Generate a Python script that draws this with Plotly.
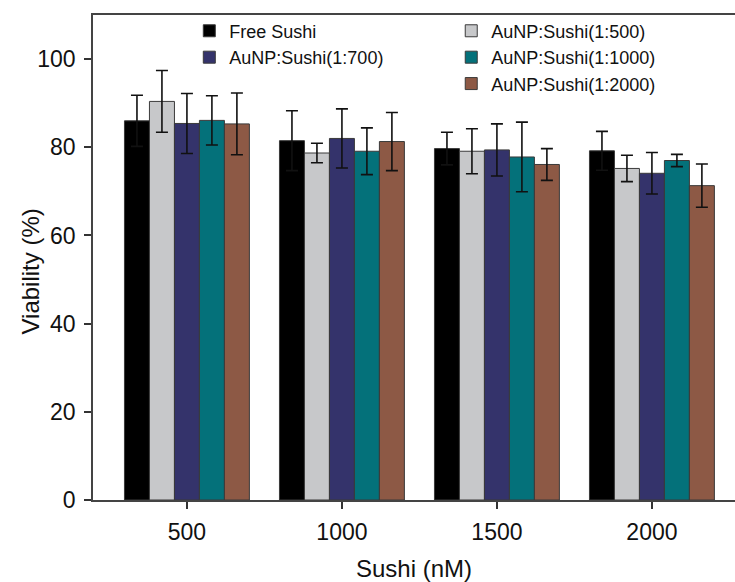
import plotly.graph_objects as go

concentrations = [500, 1000, 1500, 2000]
tick_labels = ["500", "1000", "1500", "2000"]

series_names = ["Free Sushi", "AuNP:Sushi(1:500)", "AuNP:Sushi(1:700)",
                "AuNP:Sushi(1:1000)", "AuNP:Sushi(1:2000)"]

free_sushi = [86.0, 81.5, 79.7, 79.2]
free_sushi_err = [5.8, 6.8, 3.7, 4.4]

ratio_500 = [90.4, 78.7, 79.1, 75.2]
ratio_500_err = [7.0, 2.2, 5.1, 3.0]

ratio_700 = [85.4, 82.0, 79.4, 74.1]
ratio_700_err = [6.8, 6.7, 5.9, 4.7]

ratio_1000 = [86.1, 79.1, 77.8, 77.0]
ratio_1000_err = [5.6, 5.3, 7.9, 1.4]

ratio_2000 = [85.3, 81.3, 76.1, 71.3]
ratio_2000_err = [7.0, 6.6, 3.6, 4.9]

values = [free_sushi, ratio_500, ratio_700, ratio_1000, ratio_2000]
errors = [free_sushi_err, ratio_500_err, ratio_700_err, ratio_1000_err, ratio_2000_err]
colors = ["#000000", "#C7C8CA", "#34336B", "#04717A", "#8D5945"]
legend_ids = ["legend", "legend2", "legend", "legend2", "legend2"]

FONT = "Liberation Sans, Arial, sans-serif"

fig = go.Figure()
for name, v, e, c, lg in zip(series_names, values, errors, colors, legend_ids):
    fig.add_trace(go.Bar(
        x=concentrations, y=v, name=name,
        marker=dict(color=c, line=dict(color="#3a3a3a", width=1)),
        error_y=dict(type="data", array=e, visible=True, color="#111111",
                     thickness=1.6, width=6),
        legend=lg,
    ))

fig.update_layout(
    width=735, height=582,
    margin=dict(l=93, r=0, t=15, b=82),
    paper_bgcolor="white", plot_bgcolor="white",
    barmode="group", bargap=0.194, bargroupgap=0,
    font=dict(family=FONT, color="#111111"),
    showlegend=True,
    legend=dict(x=0.15, y=1.005, xanchor="left", yanchor="top",
                font=dict(size=18, family=FONT), bgcolor="rgba(0,0,0,0)",
                tracegroupgap=0, traceorder="normal"),
    legend2=dict(x=0.558, y=1.005, xanchor="left", yanchor="top",
                 font=dict(size=18, family=FONT), bgcolor="rgba(0,0,0,0)",
                 tracegroupgap=0, traceorder="normal"),
    xaxis=dict(
        range=[197, 2268],
        tickmode="array", tickvals=concentrations, ticktext=tick_labels,
        ticks="outside", ticklen=7, tickwidth=1.5, tickcolor="#333333",
        ticklabelstandoff=4,
        showline=True, linecolor="#444444", linewidth=1.5, mirror=True,
        showgrid=False, zeroline=False,
        tickfont=dict(size=23, family=FONT, color="#111111"),
        title=dict(text="Sushi (nM)", font=dict(size=24, family=FONT, color="#111111"),
                   standoff=18),
    ),
    yaxis=dict(
        range=[0, 110],
        tickmode="array", tickvals=[0, 20, 40, 60, 80, 100],
        ticks="outside", ticklen=7, tickwidth=1.5, tickcolor="#333333",
        ticklabelstandoff=4,
        showline=True, linecolor="#444444", linewidth=1.5, mirror=False,
        showgrid=False, zeroline=False,
        tickfont=dict(size=23, family=FONT, color="#111111"),
    ),
    annotations=[dict(
        text="Viability (%)", textangle=-90,
        xref="paper", yref="paper", x=0, y=0.5,
        xanchor="center", yanchor="middle",
        xshift=-63, yshift=-14, showarrow=False,
        font=dict(size=24, family=FONT, color="#111111"),
    )],
)

fig.write_html("out.html")
